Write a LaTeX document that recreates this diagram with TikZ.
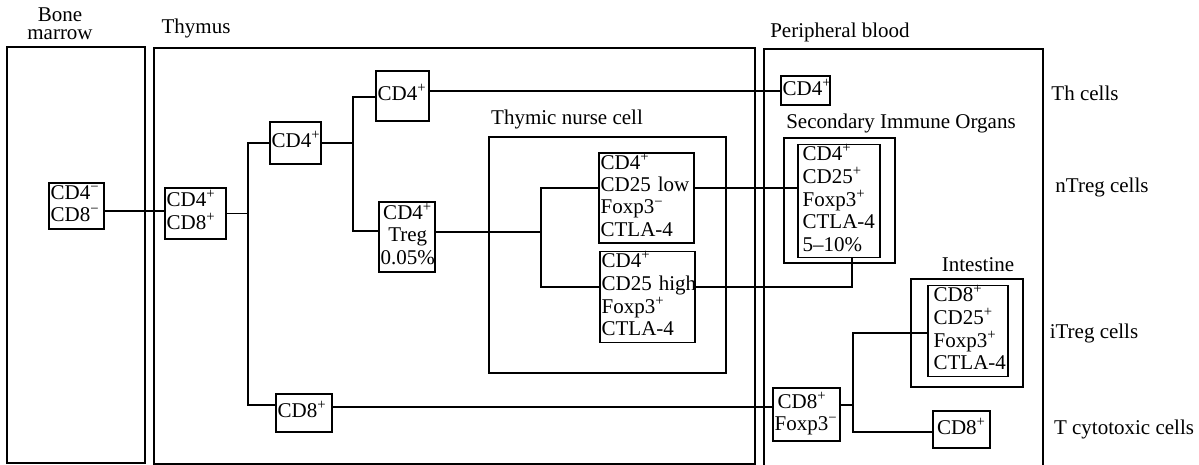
\documentclass[tikz,border=0pt]{standalone}
\usepackage{fontspec}
\setmainfont{Liberation Serif}
\newcommand\lsl[1]{\begin{tabular}{@{}l@{}}#1\end{tabular}}
\newcommand\lsc[1]{\begin{tabular}{@{}c@{}}#1\end{tabular}}
\begin{document}
\begin{tikzpicture}[x=0.5pt,y=-0.5pt,
  every node/.style={font=\fontsize{10.5}{11.2}\selectfont},
  cell/.style={draw,line width=0.6pt,inner xsep=0.8pt,inner ysep=0pt,align=left},
  region/.style={draw,line width=0.7pt},
  thickbox/.style={draw,line width=1.3pt},
  lbl/.style={inner sep=0pt,align=center},
  link/.style={line width=0.6pt}]
\useasboundingbox (0,0) rectangle (1199,465);
% containers
\draw[region] (7,47) rectangle (145,463);
\draw[region] (154,48) rectangle (755,464);
\draw[region] (764,467) -- (764,49) -- (1043,49) -- (1043,467);
\draw[thickbox] (489,137) rectangle (726,373);
\draw[thickbox] (784,138) rectangle (895,263);
\draw[thickbox] (911,279) rectangle (1023,387);
% labels
\node[lbl] (lbm) at (60,24) {Bone\\[-2pt]marrow};
\node[lbl] (lth) at (196,28) {Thymus};
\node[lbl] (lpb) at (840,32) {Peripheral blood};
\node[lbl] (ltn) at (567,119) {Thymic nurse cell};
\node[lbl] (lsio) at (901,123) {Secondary Immune Organs};
\node[lbl] (lint) at (978,265) {Intestine};
\node[lbl] (lth2) at (1085,93) {Th cells};
\node[lbl] (lnt) at (1102,187) {nTreg cells};
\node[lbl] (lit) at (1094,333) {iTreg cells};
\node[lbl] (ltc) at (1124,429) {T cytotoxic cells};
% cells
\node[cell,minimum width=27.5pt,minimum height=23pt,text width=25.9pt] (dn) at (76.5,206) {\lsl{CD4\textsuperscript{−}\\CD8\textsuperscript{−}}};
\node[cell,minimum width=30.5pt,minimum height=25.5pt,text width=28.9pt] (dp) at (195.5,213.5) {\lsl{CD4\textsuperscript{+}\\CD8\textsuperscript{+}}};
\node[cell,minimum width=25.5pt,minimum height=21pt,text width=23.9pt] (cd4a) at (295.5,143) {\lsl{CD4\textsuperscript{+}}};
\node[cell,minimum width=26.5pt,minimum height=25pt,text width=24.9pt] (cd4b) at (402.5,96) {\lsl{CD4\textsuperscript{+}}};
\node[cell,minimum width=28pt,minimum height=35pt,text width=26.4pt,align=center] (treg) at (407,237) {\lsc{CD4\textsuperscript{+}\\Treg\\0.05\%}};
\node[cell,minimum width=47.5pt,minimum height=45pt,text width=45.9pt] (low) at (646.5,198) {\lsl{CD4\textsuperscript{+}\\CD25 low\\Foxp3\textsuperscript{−}\\CTLA-4}};
\node[cell,minimum width=47.5pt,minimum height=43pt,text width=45.9pt] (high) at (647.5,297) {\lsl{CD4\textsuperscript{+}\\CD25 high\\Foxp3\textsuperscript{+}\\CTLA-4}};
\node[cell,minimum width=41pt,minimum height=47pt,text width=39.4pt] (sioi) at (839,201) {\hspace*{1.5pt}\lsl{CD4\textsuperscript{+}\\CD25\textsuperscript{+}\\Foxp3\textsuperscript{+}\\CTLA-4\\5--10\%}};
\node[cell,minimum width=40pt,minimum height=43pt,text width=38.4pt] (inti) at (968,331) {\hspace*{2pt}\lsl{CD8\textsuperscript{+}\\CD25\textsuperscript{+}\\Foxp3\textsuperscript{+}\\CTLA-4}};
\node[cell,minimum width=24.5pt,minimum height=14.5pt,text width=22.9pt] (pcd4) at (805.5,90.5) {\lsl{CD4\textsuperscript{+}}};
\node[cell,minimum width=28pt,minimum height=19pt,text width=26.4pt] (cd8a) at (304,413) {\lsl{CD8\textsuperscript{+}}};
\node[cell,minimum width=33.5pt,minimum height=26.5pt,text width=31.9pt] (cd8f) at (806.5,414.5) {\lsl{\hspace*{1.5pt}CD8\textsuperscript{+}\\Foxp3\textsuperscript{−}}};
\node[cell,minimum width=28.5pt,minimum height=18.5pt,text width=26.9pt,align=center] (cd8b) at (961.5,429.5) {\lsc{CD8\textsuperscript{+}}};
% junction coordinates
\coordinate (j1) at (248,213.5);
\coordinate (j2) at (353,143);
\coordinate (j3) at (541,232);
\coordinate (j4) at (852,287);
\coordinate (j5) at (853,405);
% connectors
\draw[link] (dn.east |- 0,211) -- (dp.west |- 0,211);
\draw[link] (dp.east |- j1) -- (j1);
\draw[link] (cd4a.west) -| (j1 |- 0,405) -- (cd8a.west |- 0,405);
\draw[link] (cd4a.east) -- (j2);
\draw[link] (cd4b.west |- 0,97) -| (j2 |- 0,231) -- (treg.west |- 0,231);
\draw[link] (cd4b.east |- 0,91) -- (pcd4.west |- 0,91);
\draw[link] (treg.east |- j3) -- (j3);
\draw[link] (low.west |- 0,188) -| (j3 |- 0,287) -- (high.west |- 0,287);
\draw[link] (low.east |- 0,188) -- (sioi.west |- 0,188);
\draw[link] (high.east |- j4) -- (j4) -- (j4 |- sioi.south);
\draw[link] (cd8a.east |- 0,407) -- (cd8f.west |- 0,407);
\draw[link] (cd8f.east |- j5) -- (j5);
\draw[link] (inti.west |- 0,333) -| (j5 |- 0,432) -- (cd8b.west |- 0,432);
\end{tikzpicture}
\end{document}
